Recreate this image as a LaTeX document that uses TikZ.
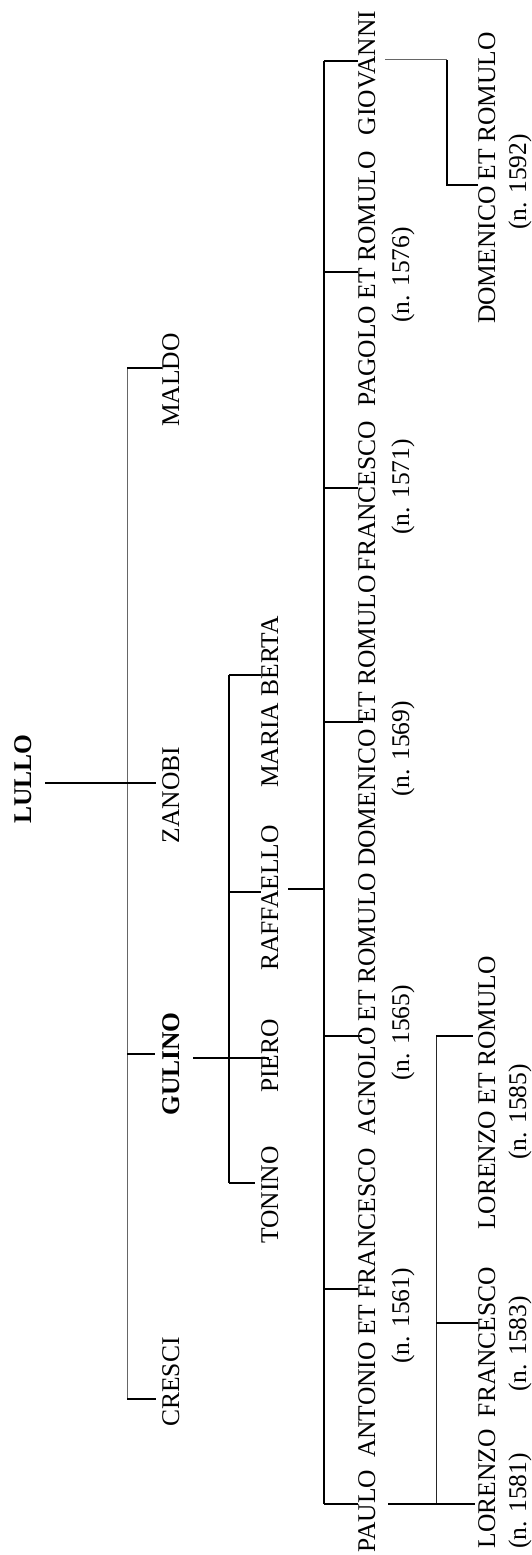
\documentclass[tikz,border=0pt]{standalone}
\usepackage{fontspec}
\setmainfont{Liberation Serif}
\begin{document}
\begin{tikzpicture}[x=1pt,y=-1pt,
  person/.style={rotate=90,anchor=base,inner sep=0pt,outer sep=0pt,
    font=\fontsize{25.5pt}{30pt}\selectfont},
  head/.style={person,font=\fontsize{25.5pt}{30pt}\selectfont\bfseries},
  link/.style={line width=1.8pt,black},
  fine/.style={line width=1pt,black!60}]
\useasboundingbox (0,0) rectangle (532,1555);

% ---- generation 0 and 1
\node[head]   (lullo)  at (31,779)  {LULLO};
\node[person] (maldo)  at (179,380) {MALDO};
\node[person] (zanobi) at (179,795) {ZANOBI};
\node[head]   (gulino) at (179,1064) {GULINO};
\node[person] (cresci) at (179,1382) {CRESCI};

% ---- children of Gulino
\node[person] (mariaberta) at (278,702)  {MARIA BERTA};
\node[person] (raffaello)  at (278,898)  {RAFFAELLO};
\node[person] (piero)      at (278,1056) {PIERO};
\node[person] (tonino)     at (278,1195) {TONINO};

% ---- children of Raffaello
\node[person] (giovanni)  at (375,73)   {GIOVANNI};
\node[person] (pagolo)    at (375,279)  {PAGOLO ET ROMULO};
\node[person] (francesco) at (375,496)  {FRANCESCO};
\node[person] (domenico)  at (375,721)  {DOMENICO ET ROMULO};
\node[person] (agnolo)    at (375,1004) {AGNOLO ET ROMULO};
\node[person] (antonio)   at (375,1303) {ANTONIO ET FRANCESCO};
\node[person] (paulo)     at (375,1511) {PAULO};

\node[person] (dpagolo)    at (409,275)  {(n. 1576)};
\node[person] (dfrancesco) at (409,487)  {(n. 1571)};
\node[person] (ddomenico)  at (409,749)  {(n. 1569)};
\node[person] (dagnolo)    at (409,1033) {(n. 1565)};
\node[person] (dantonio)   at (409,1316) {(n. 1561)};

% ---- grandchildren
\node[person] (domenicoB)  at (495,178)  {DOMENICO ET ROMULO};
\node[person] (lorenzoR)   at (495,1093) {LORENZO ET ROMULO};
\node[person] (francescoB) at (495,1342) {FRANCESCO};
\node[person] (lorenzo)    at (495,1489) {LORENZO};

\node[person] (ddomenicoB)  at (526,182)  {(n. 1592)};
\node[person] (dlorenzoR)   at (526,1112) {(n. 1585)};
\node[person] (dfrancescoB) at (526,1344) {(n. 1583)};
\node[person] (dlorenzo)    at (526,1501) {(n. 1581)};

% ---- bracket: children of Lullo
\coordinate (aTop) at (127,368);
\coordinate (aZan) at (127,783);
\coordinate (aGul) at (127,1054);
\coordinate (aBot) at (127,1399);
\draw[fine] (aTop) -- (aBot);
\draw[link,shorten <=14pt,shorten >=6pt] (lullo.south |- aZan) -- (zanobi.north |- aZan);
\draw[link] (aTop) -- (maldo.north |- aTop);
\draw[link,shorten >=7pt] (aGul) -- (gulino.north |- aGul);
\draw[link,shorten >=6pt] (aBot) -- (cresci.north |- aBot);

% ---- bracket: children of Gulino
\coordinate (bTop) at (229,675);
\coordinate (bRaf) at (229,892);
\coordinate (bPie) at (229,1058);
\coordinate (bBot) at (229,1183);
\draw[link] (bTop) -- (bBot);
\draw[link,shorten <=14pt] (gulino.south |- bPie) -- (bPie);
\draw[link,shorten >=-8pt] (bPie) -- (piero.north |- bPie);
\draw[link] (bTop) -- (mariaberta.north |- bTop);
\draw[link] (bRaf) -- (raffaello.north |- bRaf);
\draw[link,shorten >=6pt] (bBot) -- (tonino.north |- bBot);

% ---- bracket: children of Raffaello
\coordinate (cTop) at (324,61);
\coordinate (cPag) at (324,272);
\coordinate (cFra) at (324,488);
\coordinate (cRaf) at (324,889);
\coordinate (cDom) at (324,722);
\coordinate (cAgn) at (324,1036);
\coordinate (cAnt) at (324,1289);
\coordinate (cBot) at (324,1504);
\draw[link] (cTop) -- (cBot);
\draw[link,shorten <=10pt] (raffaello.south |- cRaf) -- (cRaf);
\draw[link] (cTop) -- (giovanni.north |- cTop);
\draw[link] (cPag) -- (pagolo.north |- cPag);
\draw[link] (cFra) -- (francesco.north |- cFra);
\draw[link,shorten >=-5pt] (cDom) -- (domenico.north |- cDom);
\draw[link,shorten >=-4pt] (cAgn) -- (agnolo.north |- cAgn);
\draw[link] (cAnt) -- (antonio.north |- cAnt);
\draw[link] (cBot) -- (paulo.north |- cBot);

% ---- bracket: children of Paulo
\coordinate (dTop) at (436,1036);
\coordinate (dFra) at (436,1323);
\coordinate (dBot) at (436,1504);
\draw[fine,black!85] (dTop) -- (dBot);
\draw[link,shorten <=13pt,shorten >=3pt] (paulo.south |- dBot) -- (lorenzo.north |- dBot);
\draw[link,shorten >=5pt] (dTop) -- (lorenzoR.north |- dTop);
\draw[link] (dFra) -- (francescoB.north |- dFra);

% ---- child of Giovanni
\coordinate (eTop) at (447,60);
\coordinate (eBot) at (447,185);
\draw[fine,shorten <=10pt] (giovanni.south |- eTop) -- (eTop);
\draw[link] (eTop) -- (eBot) -- (domenicoB.north |- eBot);
\end{tikzpicture}
\end{document}
